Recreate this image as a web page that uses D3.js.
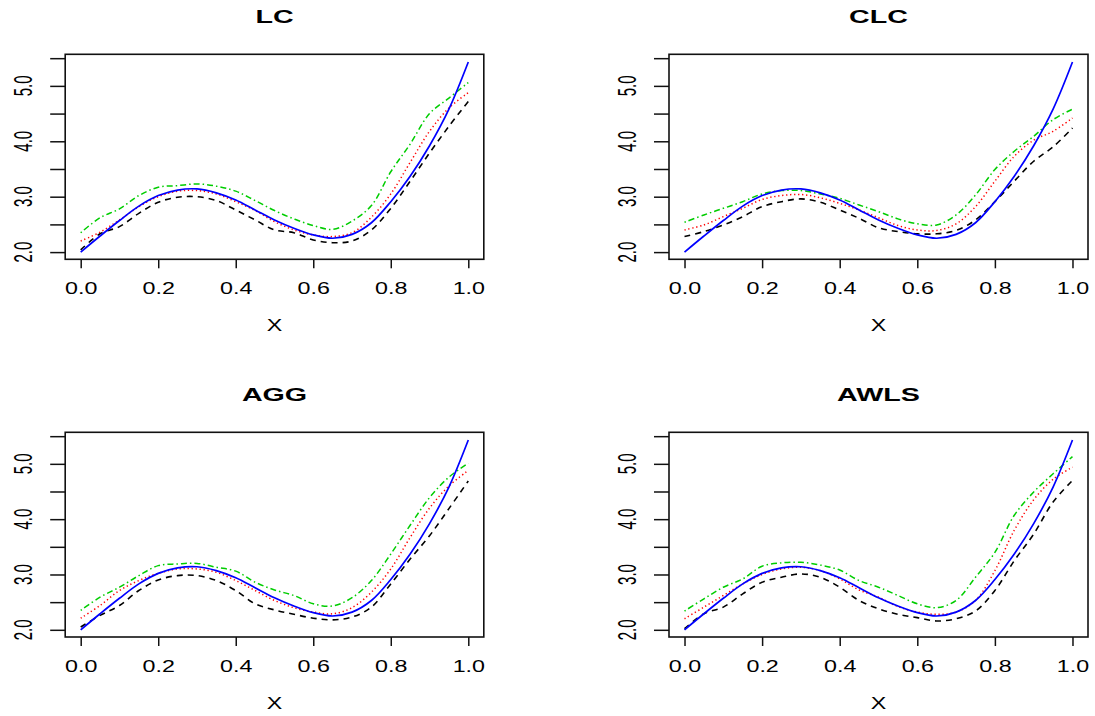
<!DOCTYPE html>
<html>
<head>
<meta charset="utf-8">
<script src="https://cdn.jsdelivr.net/npm/d3@7/dist/d3.min.js"></script>
<style>
  html, body { margin: 0; padding: 0; background: #ffffff; }
  svg { display: block; }
  text { font-family: "Liberation Sans", Arial, Helvetica, sans-serif; fill: #000; }
</style>
</head>
<body>
<svg id="chart" width="1095" height="716"></svg>
<script>
// ---------------- data ----------------
const xGrid = [0.00, 0.05, 0.10, 0.15, 0.20, 0.25, 0.30, 0.35, 0.40, 0.45, 0.50,
               0.55, 0.60, 0.65, 0.70, 0.75, 0.80, 0.85, 0.90, 0.95, 1.00];

// true regression function (blue solid)
const trueCurve = [2.00, 2.29, 2.57, 2.83, 3.02, 3.12, 3.14, 3.07, 2.94, 2.76, 2.58,
                   2.43, 2.31, 2.25, 2.32, 2.53, 2.91, 3.37, 3.92, 4.58, 5.43];

// LC estimates
const lcBlack = [2.04, 2.33, 2.46, 2.70, 2.90, 2.99, 3.00, 2.93, 2.76, 2.58, 2.40,
                 2.35, 2.22, 2.17, 2.20, 2.40, 2.79, 3.28, 3.79, 4.27, 4.72];
const lcRed   = [2.20, 2.36, 2.58, 2.82, 3.00, 3.10, 3.11, 3.05, 2.91, 2.75, 2.55,
                 2.40, 2.31, 2.28, 2.35, 2.63, 3.05, 3.62, 4.18, 4.60, 4.88];
const lcGreen = [2.35, 2.62, 2.78, 3.02, 3.17, 3.20, 3.23, 3.19, 3.10, 2.93, 2.75,
                 2.60, 2.48, 2.41, 2.56, 2.84, 3.45, 3.95, 4.50, 4.78, 5.06];

// CLC estimates
const clcBlack = [2.28, 2.37, 2.49, 2.64, 2.82, 2.91, 2.96, 2.90, 2.76, 2.61, 2.44,
                  2.37, 2.33, 2.33, 2.39, 2.58, 2.91, 3.28, 3.64, 3.90, 4.24];
const clcRed   = [2.40, 2.49, 2.64, 2.79, 2.95, 3.02, 3.04, 2.98, 2.88, 2.76, 2.62,
                  2.48, 2.40, 2.39, 2.51, 2.82, 3.28, 3.73, 4.02, 4.18, 4.42];
const clcGreen = [2.54, 2.67, 2.79, 2.91, 3.05, 3.11, 3.11, 3.05, 2.97, 2.85, 2.73,
                  2.60, 2.51, 2.49, 2.67, 3.03, 3.49, 3.82, 4.09, 4.39, 4.58];

// AGG estimates
const aggBlack = [2.05, 2.26, 2.44, 2.71, 2.90, 2.98, 2.98, 2.89, 2.71, 2.47, 2.36,
                  2.28, 2.21, 2.18, 2.23, 2.41, 2.83, 3.28, 3.70, 4.19, 4.69];
const aggRed   = [2.21, 2.44, 2.71, 2.89, 3.02, 3.10, 3.10, 3.04, 2.89, 2.71, 2.53,
                  2.40, 2.32, 2.29, 2.40, 2.68, 3.10, 3.67, 4.20, 4.60, 4.88];
const aggGreen = [2.35, 2.59, 2.77, 2.98, 3.16, 3.19, 3.20, 3.13, 3.06, 2.86, 2.72,
                  2.62, 2.47, 2.43, 2.58, 2.89, 3.37, 3.89, 4.39, 4.76, 5.01];

// AWLS estimates
const awlsBlack = [2.02, 2.29, 2.41, 2.65, 2.86, 2.95, 3.01, 2.95, 2.77, 2.53, 2.38,
                   2.28, 2.22, 2.16, 2.20, 2.34, 2.71, 3.25, 3.73, 4.31, 4.70];
const awlsRed   = [2.20, 2.41, 2.62, 2.83, 3.00, 3.10, 3.13, 3.07, 2.92, 2.72, 2.59,
                   2.42, 2.32, 2.28, 2.32, 2.53, 3.07, 3.80, 4.35, 4.72, 4.94];
const awlsGreen = [2.34, 2.56, 2.77, 2.92, 3.15, 3.21, 3.22, 3.17, 3.08, 2.89, 2.77,
                   2.62, 2.47, 2.40, 2.53, 2.95, 3.40, 4.07, 4.49, 4.82, 5.13];

const panelTitles = ["LC", "CLC", "AGG", "AWLS"];
const xTicks = [0.0, 0.2, 0.4, 0.6, 0.8, 1.0];
const yTicks = [2.0, 2.5, 3.0, 3.5, 4.0, 4.5, 5.0, 5.5];
const yLabelTicks = [2.0, 3.0, 4.0, 5.0];
const xLabel = "X";

// ---------------- layout ----------------
const panels = [
  { title: panelTitles[0], series: [lcGreen, lcRed, lcBlack],       box: [65.2, 483.8, 54.3, 259.3] },
  { title: panelTitles[1], series: [clcGreen, clcRed, clcBlack],    box: [669, 1088, 54.3, 259.3] },
  { title: panelTitles[2], series: [aggGreen, aggRed, aggBlack],    box: [65.2, 483.8, 432.3, 637] },
  { title: panelTitles[3], series: [awlsGreen, awlsRed, awlsBlack], box: [669, 1088, 432.3, 637] }
];
const seriesStyle = [
  { color: "#00CD00", dash: "1.5,3,6,3", width: 1.5 },  // dot-dash green
  { color: "#FF0000", dash: "1.3,2.7",   width: 1.5 },  // dotted red
  { color: "#000000", dash: "6,5",       width: 1.6 }   // dashed black
];
const xDomain = [-0.04, 1.04];
const yDomain = [1.87, 5.57];

const svg = d3.select("#chart");

panels.forEach(p => {
  const [x0, x1, y0, y1] = p.box;
  const x = d3.scaleLinear().domain(xDomain).range([x0, x1]);
  const y = d3.scaleLinear().domain(yDomain).range([y1, y0]);
  const g = svg.append("g");

  // x axis
  const xa = g.append("g").attr("transform", `translate(0,${y1})`)
    .call(d3.axisBottom(x).tickValues(xTicks).tickSize(9).tickSizeOuter(0).tickFormat(d3.format(".1f")));
  xa.select(".domain").remove();
  xa.selectAll("line").attr("stroke", "#111").attr("stroke-width", 1.5);
  xa.selectAll("text")
    .attr("y", 35).attr("dy", 0)
    .attr("transform", "scale(1.37,1)")
    .style("font-size", "17px").attr("fill", "#000");

  // y axis
  const ya = g.append("g").attr("transform", `translate(${x0},0)`)
    .call(d3.axisLeft(y).tickValues(yTicks).tickSize(15).tickSizeOuter(0).tickFormat(""));
  ya.select(".domain").remove();
  ya.selectAll("line").attr("stroke", "#111").attr("stroke-width", 1.5);
  g.selectAll(".ylab").data(yLabelTicks).enter().append("text")
    .attr("class", "ylab")
    .attr("text-anchor", "middle")
    .attr("transform", d => `translate(${x0 - 33.5},${y(d)}) scale(1.75,1) rotate(-90)`)
    .style("font-size", "15px")
    .text(d => d3.format(".1f")(d));

  // box
  g.append("rect")
    .attr("x", x0).attr("y", y0)
    .attr("width", x1 - x0).attr("height", y1 - y0)
    .attr("fill", "none").attr("stroke", "#111").attr("stroke-width", 1.6);

  // titles
  const cx = (x0 + x1) / 2;
  g.append("text")
    .attr("text-anchor", "middle")
    .attr("transform", `translate(${cx},${y0 - 31}) scale(1.55,1)`)
    .style("font-size", "18.5px").style("font-weight", "bold")
    .text(p.title);
  g.append("text")
    .attr("text-anchor", "middle")
    .attr("transform", `translate(${cx},${y1 + 72}) scale(1.37,1)`)
    .style("font-size", "17px")
    .text(xLabel);

  // curves
  const line = d3.line()
    .x((d, i) => x(xGrid[i]))
    .y(d => y(d))
    .curve(d3.curveCatmullRom.alpha(0.5));

  p.series.forEach((s, k) => {
    const st = seriesStyle[k];
    g.append("path")
      .datum(s)
      .attr("d", line)
      .attr("fill", "none")
      .attr("stroke", st.color)
      .attr("stroke-width", st.width)
      .attr("stroke-dasharray", st.dash);
  });
  g.append("path")
    .datum(trueCurve)
    .attr("d", line)
    .attr("fill", "none")
    .attr("stroke", "#0000FF")
    .attr("stroke-width", 1.7);
});
</script>
</body>
</html>
